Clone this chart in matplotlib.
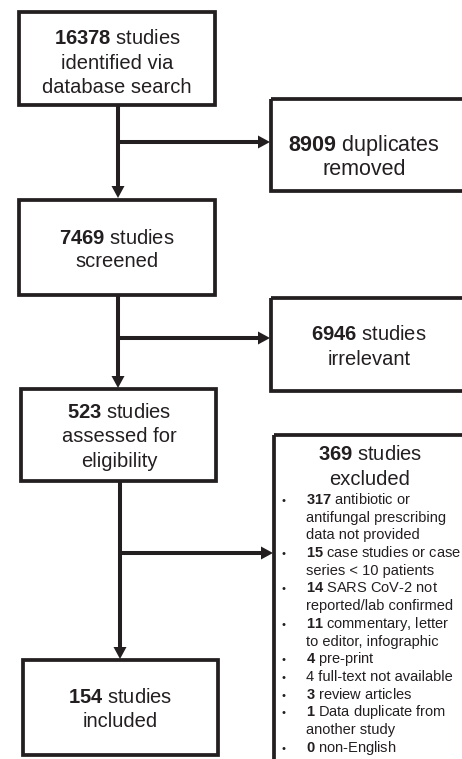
import matplotlib
matplotlib.use("Agg")
import matplotlib.pyplot as plt
from matplotlib.patches import Rectangle, Polygon

plt.rcParams['font.family'] = ['Liberation Sans', 'DejaVu Sans']
plt.rcParams['mathtext.fontset'] = 'custom'
plt.rcParams['mathtext.rm'] = 'Liberation Sans'
plt.rcParams['mathtext.bf'] = 'Liberation Sans:bold'

# flow counts
n_identified = 16378
n_duplicates = 8909
n_screened = 7469
n_irrelevant = 6946
n_assessed = 523
n_excluded = 369
n_included = 154

# exclusion reasons
reason_counts = [317, 15, 14, 11, 4, 4, 3, 1, 0]
reason_texts = [
    "antibiotic or\nantifungal prescribing\ndata not provided",
    "case studies or case\nseries < 10 patients",
    "SARS CoV-2 not\nreported/lab confirmed",
    "commentary, letter\nto editor, infographic",
    "pre-print",
    "full-text not available",
    "review articles",
    "Data duplicate from\nanother study",
    "non-English",
]
reason_bold = [True, True, True, True, True, False, True, True, True]

INK = '#231f20'
W, H = 462, 759

fig = plt.figure(figsize=(W / 100, H / 100), dpi=100)
ax = fig.add_axes([0, 0, 1, 1])
ax.set_xlim(0, W)
ax.set_ylim(H, 0)
ax.axis('off')


def box(x0, y0, x1, y1):
    ax.add_patch(Rectangle((x0, y0), x1 - x0, y1 - y0, fill=False,
                           edgecolor=INK, lw=2.7, joinstyle='miter', clip_on=False))


# y given as visual middle of the capitals, text drawn on its baseline
def label(n, rest, x, y, size=14.5):
    ax.text(x, y + size * 0.5, r"$\mathbf{%d}$ %s" % (n, rest), ha='center',
            va='baseline', fontsize=size, color=INK)


def plain(s, x, y, size=14.5):
    ax.text(x, y + size * 0.5, s, ha='center', va='baseline', fontsize=size, color=INK)


def arrow(x0, y0, x1, y1, head=12, half=6.5):
    # straight arrow, vertical or horizontal
    if x0 == x1:
        d = 1 if y1 > y0 else -1
        ax.plot([x0, x0], [y0, y1 - d * head], color=INK, lw=2.9, solid_capstyle='butt')
        ax.add_patch(Polygon([(x1 - half, y1 - d * head), (x1 + half, y1 - d * head), (x1, y1)],
                             closed=True, color=INK, lw=0))
    else:
        d = 1 if x1 > x0 else -1
        ax.plot([x0, x1 - d * head], [y0, y0], color=INK, lw=2.9, solid_capstyle='butt')
        ax.add_patch(Polygon([(x1 - d * head, y1 - half), (x1 - d * head, y1 + half), (x1, y1)],
                             closed=True, color=INK, lw=0))


# left column boxes
box(19, 12, 215, 105)
label(n_identified, "studies", 117, 37)
plain("identified via", 117, 62)
plain("database search", 117, 86)

box(19, 200, 215, 295)
label(n_screened, "studies", 117, 237)
plain("screened", 117, 260)

box(21, 389, 216, 481)
label(n_assessed, "studies", 119, 411)
plain("assessed for", 119, 435)
plain("eligibility", 119, 460)

box(23, 660, 218, 755)
label(n_included, "studies", 120, 696)
plain("included", 120, 720)

# right column boxes
box(271, 99, 480, 191)
label(n_duplicates, "duplicates", 364, 143, size=15.5)
plain("removed", 364, 167, size=15.5)

box(271, 298, 480, 391)
label(n_irrelevant, "studies", 369, 333)
plain("irrelevant", 369, 358)

box(274, 435, 480, 800)
label(n_excluded, "studies", 370, 453)
plain("excluded", 370, 478)

# bullet list of exclusion reasons
line_h = 17.69
y = 499
off = 5.0
for n, txt, b in zip(reason_counts, reason_texts, reason_bold):
    lines = txt.split("\n")
    ax.text(283, y + off, u"\u2022", ha='center', va='baseline', fontsize=8, color=INK)
    first = (r"$\mathbf{%d}$ " % n if b else "%d " % n) + lines[0]
    ax.text(306, y + off, first, ha='left', va='baseline', fontsize=10.5, color=INK)
    y += line_h
    for ln in lines[1:]:
        ax.text(306, y + off, ln, ha='left', va='baseline', fontsize=10.5, color=INK)
        y += line_h

# connectors
arrow(118, 105, 118, 198)
arrow(118, 142, 270, 142)
arrow(118, 295, 118, 388)
arrow(118, 338, 270, 338)
arrow(120, 481, 120, 659)
arrow(120, 553, 273, 553)

fig.savefig("out.png", dpi=100)
